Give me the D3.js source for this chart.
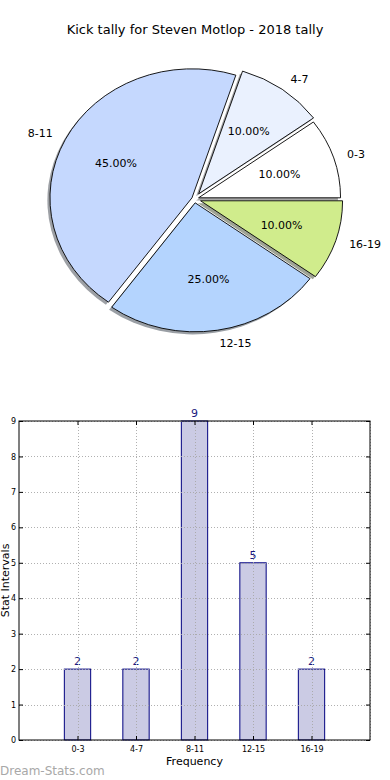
<!DOCTYPE html>
<html>
<head>
<meta charset="utf-8">
<script src="https://cdn.jsdelivr.net/npm/d3@7"></script>
<style>
  html, body { margin: 0; padding: 0; background: #ffffff; }
  svg { display: block; }
  text { font-family: "DejaVu Sans", sans-serif; }
</style>
</head>
<body>
<svg id="chart" width="390" height="780"></svg>
<script>
// ---- data ----
const title = "Kick tally for Steven Motlop - 2018 tally";
const categories = ["0-3", "4-7", "8-11", "12-15", "16-19"];
const counts = [2, 2, 9, 5, 2];
const pieColors = ["#ffffff", "#eaf1fe", "#c5d8fe", "#b4d4fe", "#d0ec8c"];
const explode = [0.03, 0.05, 0.02, 0.03, 0.045];
const yTicks = [0, 1, 2, 3, 4, 5, 6, 7, 8, 9];
const xLabel = "Frequency";
const yLabel = "Stat Intervals";
const watermark = "Dream-Stats.com";

(function () {
const svg = d3.select("#chart");

// ---- title ----
svg.append("text")
  .attr("x", 195).attr("y", 34)
  .attr("text-anchor", "middle")
  .attr("font-size", 13)
  .attr("fill", "#000")
  .text(title);

// ---- pie ----
const cx = 194.5, cy = 199, rx = 142, ry = 129;
const sx = rx / ry;
const R = ry;
const total = d3.sum(counts);
const pie = d3.pie().sort(null).value(d => d)
  .startAngle(Math.PI / 2).endAngle(Math.PI / 2 - 2 * Math.PI);
const arcs = pie(counts);
const arcGen = d3.arc().innerRadius(0).outerRadius(R);

const pieG = svg.append("g").attr("transform", `translate(${cx},${cy}) scale(${sx},1)`);
const mid = a => (a.startAngle + a.endAngle) / 2;
const off = (a, i) => [explode[i] * R * Math.sin(mid(a)), -explode[i] * R * Math.cos(mid(a))];

// shadows
const shOffX = -0.02 * R, shOffY = 0.02 * R;
pieG.selectAll("path.shadow").data(arcs).enter().append("path")
  .attr("class", "shadow")
  .attr("d", arcGen)
  .attr("transform", (a, i) => { const o = off(a, i); return `translate(${o[0] + shOffX / sx},${o[1] + shOffY})`; })
  .attr("fill", (a, i) => { const c = d3.rgb(pieColors[i]); return d3.rgb(c.r * 0.3, c.g * 0.3, c.b * 0.3); })
  .attr("fill-opacity", 0.5)
  .attr("stroke", "none");

// wedges
pieG.selectAll("path.wedge").data(arcs).enter().append("path")
  .attr("class", "wedge")
  .attr("d", arcGen)
  .attr("transform", (a, i) => { const o = off(a, i); return `translate(${o[0]},${o[1]})`; })
  .attr("fill", (a, i) => pieColors[i])
  .attr("stroke", "#000")
  .attr("stroke-width", 0.9)
  .attr("vector-effect", "non-scaling-stroke")
  .attr("stroke-linejoin", "round");

// labels
arcs.forEach((a, i) => {
  const m = mid(a);
  const s = Math.sin(m), c = Math.cos(m);
  const ex = cx + sx * explode[i] * R * s, ey = cy - explode[i] * R * c;
  const lx = ex + sx * 1.1 * R * s, ly = ey - 1.1 * R * c;
  svg.append("text")
    .attr("x", lx).attr("y", ly)
    .attr("dy", "0.35em")
    .attr("text-anchor", s > 0 ? "start" : "end")
    .attr("font-size", 11)
    .text(categories[i]);
  const px = ex + sx * 0.6 * R * s, py = ey - 0.6 * R * c;
  svg.append("text")
    .attr("x", px).attr("y", py)
    .attr("dy", "0.35em")
    .attr("text-anchor", "middle")
    .attr("font-size", 11)
    .text((counts[i] / total * 100).toFixed(2) + "%");
});

// ---- bar chart ----
const pL = 19, pR = 370, pT = 421, pB = 740;
const x = d3.scaleLinear().domain([-1, 5]).range([pL, pR]);
const y = d3.scaleLinear().domain([0, 9]).range([pB, pT]);
const barW = x(0.45) - x(0);

const barG = svg.append("g");
barG.selectAll("rect.bar").data(counts).enter().append("rect")
  .attr("class", "bar")
  .attr("x", (d, i) => x(i) - barW / 2)
  .attr("y", d => y(d))
  .attr("width", barW)
  .attr("height", d => y(0) - y(d))
  .attr("fill", "#cbcbe4")
  .attr("stroke", "#000080")
  .attr("stroke-width", 1);

// grid
const gridG = svg.append("g").attr("stroke", "#a8a8a8").attr("stroke-width", 1)
  .attr("stroke-dasharray", "1,2").attr("opacity", 0.9);
yTicks.forEach(t => {
  gridG.append("line").attr("x1", pL).attr("x2", pR)
    .attr("y1", Math.round(y(t)) + 0.5).attr("y2", Math.round(y(t)) + 0.5);
});
d3.range(0, 6).forEach(t => {
  gridG.append("line").attr("y1", pT).attr("y2", pB)
    .attr("x1", Math.round(x(t)) + 0.5).attr("x2", Math.round(x(t)) + 0.5);
});

// value labels
barG.selectAll("text.val").data(counts).enter().append("text")
  .attr("class", "val")
  .attr("x", (d, i) => x(i))
  .attr("y", d => y(d) - 4)
  .attr("text-anchor", "middle")
  .attr("font-size", 11)
  .attr("fill", "#1a1a80")
  .text(d => d);

// axes with inner ticks
const yAxisL = d3.axisLeft(y).tickValues(yTicks).tickSize(-4).tickPadding(3).tickFormat(d3.format("d"));
const yAxisR = d3.axisRight(y).tickValues(yTicks).tickSize(-4).tickFormat("");
const xAxisB = d3.axisBottom(x).tickValues(d3.range(0, 5)).tickSize(-4).tickPadding(6)
  .tickFormat((d) => categories[d]);
const xAxisT = d3.axisTop(x).tickValues(d3.range(0, 5)).tickSize(-4).tickFormat("");

function styleAxis(g) {
  g.select(".domain").remove();
  g.selectAll("line").attr("stroke", "#000");
  g.selectAll("text").attr("font-size", 8).attr("fill", "#000").attr("font-family", "DejaVu Sans, sans-serif");
}
svg.append("g").attr("transform", `translate(${pL},0)`).call(yAxisL).call(styleAxis);
svg.append("g").attr("transform", `translate(${pR},0)`).call(yAxisR).call(styleAxis);
svg.append("g").attr("transform", `translate(0,${pB})`).call(xAxisB).call(styleAxis);
svg.append("g").attr("transform", `translate(0,${pT})`).call(xAxisT).call(styleAxis);

// frame
svg.append("rect")
  .attr("x", pL).attr("y", pT)
  .attr("width", pR - pL).attr("height", pB - pT)
  .attr("fill", "none").attr("stroke", "#000").attr("stroke-width", 1);

// axis labels
svg.append("text")
  .attr("x", (pL + pR) / 2).attr("y", 765)
  .attr("text-anchor", "middle").attr("font-size", 11)
  .text(xLabel);
svg.append("text")
  .attr("transform", `translate(9,${(pT + pB) / 2}) rotate(-90)`)
  .attr("text-anchor", "middle").attr("font-size", 11)
  .text(yLabel);

// watermark
svg.append("text")
  .attr("x", 0).attr("y", 775)
  .attr("font-size", 12)
  .attr("fill", "#a8a8a8")
  .attr("font-family", "Open Sans, DejaVu Sans, sans-serif")
  .attr("font-weight", "normal")
  .text(watermark);
})();
</script>
</body>
</html>
